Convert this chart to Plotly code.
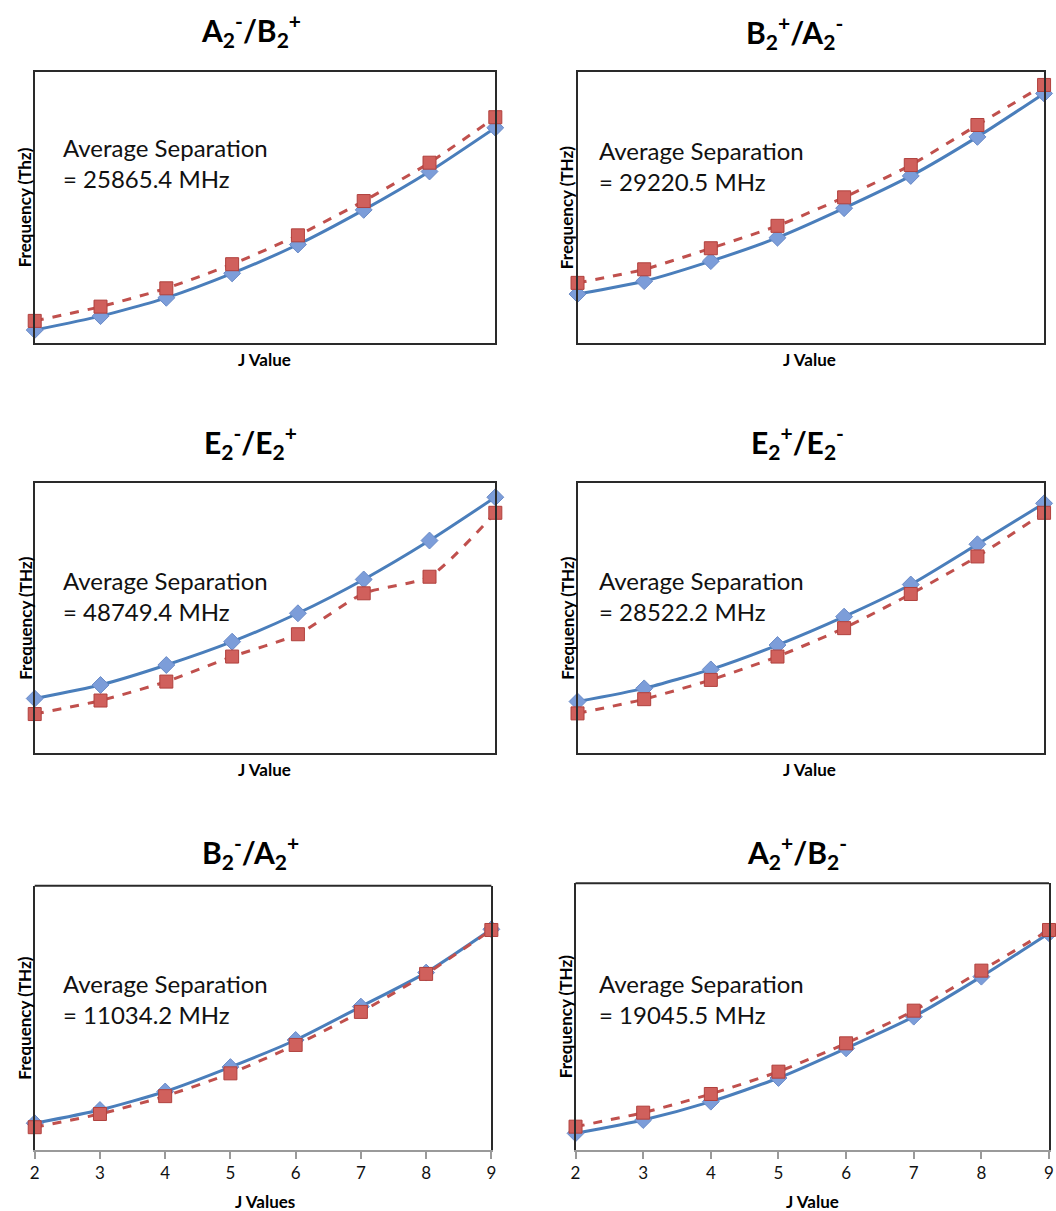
import plotly.graph_objects as go

# ---------------- data ----------------
j_values = [2, 3, 4, 5, 6, 7, 8, 9]
tick_labels = ["2", "3", "4", "5", "6", "7", "8", "9"]

panel_titles = [
    "A<sub>2</sub><sup>-</sup>/B<sub>2</sub><sup>+</sup>",
    "B<sub>2</sub><sup>+</sup>/A<sub>2</sub><sup>-</sup>",
    "E<sub>2</sub><sup>-</sup>/E<sub>2</sub><sup>+</sup>",
    "E<sub>2</sub><sup>+</sup>/E<sub>2</sub><sup>-</sup>",
    "B<sub>2</sub><sup>-</sup>/A<sub>2</sub><sup>+</sup>",
    "A<sub>2</sub><sup>+</sup>/B<sub>2</sub><sup>-</sup>",
]
separations = ["25865.4", "29220.5", "48749.4", "28522.2", "11034.2", "19045.5"]
y_titles = ["Frequency (Thz)", "Frequency (THz)", "Frequency (THz)",
            "Frequency (THz)", "Frequency (THz)", "Frequency (THz)"]
x_titles = ["J Value", "J Value", "J Value", "J Value", "J Values", "J Value"]

# relative frequencies (THz)
a2m_b2p_blue = [0.039, 0.080, 0.134, 0.206, 0.291, 0.393, 0.506, 0.635]
a2m_b2p_red = [0.066, 0.108, 0.162, 0.233, 0.318, 0.419, 0.532, 0.666]

b2p_a2m_blue = [0.145, 0.183, 0.242, 0.311, 0.398, 0.493, 0.608, 0.736]
b2p_a2m_red = [0.178, 0.218, 0.280, 0.346, 0.430, 0.525, 0.643, 0.761]

e2m_e2p_blue = [0.162, 0.202, 0.261, 0.330, 0.414, 0.514, 0.629, 0.757]
e2m_e2p_red = [0.116, 0.156, 0.212, 0.286, 0.352, 0.473, 0.522, 0.711]

e2p_e2m_blue = [0.153, 0.192, 0.248, 0.320, 0.404, 0.499, 0.618, 0.739]
e2p_e2m_red = [0.118, 0.160, 0.217, 0.286, 0.370, 0.471, 0.582, 0.711]

b2m_a2p_blue = [0.081, 0.121, 0.177, 0.251, 0.333, 0.434, 0.537, 0.668]
b2m_a2p_red = [0.069, 0.109, 0.163, 0.232, 0.318, 0.418, 0.533, 0.666]

a2p_b2m_blue = [0.050, 0.090, 0.145, 0.216, 0.305, 0.400, 0.520, 0.650]
a2p_b2m_red = [0.070, 0.112, 0.168, 0.235, 0.320, 0.418, 0.538, 0.660]

blue_series = [a2m_b2p_blue, b2p_a2m_blue, e2m_e2p_blue, e2p_e2m_blue, b2m_a2p_blue, a2p_b2m_blue]
red_series = [a2m_b2p_red, b2p_a2m_red, e2m_e2p_red, e2p_e2m_red, b2m_a2p_red, a2p_b2m_red]

# ---------------- layout geometry (pixels) ----------------
W, H = 1056, 1211
# (left, right, top, bottom) of each plot frame in pixels
boxes = [
    (30, 495, 71.7, 343.3),
    (578, 1049, 71.7, 343.3),
    (30, 495, 482.7, 753.3),
    (578, 1049, 482.7, 753.3),
    (30, 491, 885.7, 1150),
    (576, 1054, 883.3, 1150),
]
title_pos = [(248, 30), (797, 32), (248, 442), (800, 442), (248, 852), (800, 852)]
text_pos = [(57, 147), (598, 150), (57, 580), (598, 580), (57, 983), (598, 983)]
ytitle_x = [20, 567, 20, 567, 20, 566]
xtitle_pos = [(262, 359), (812, 359), (262, 769), (812, 769), (262, 1201), (815, 1201)]

BLUE_LINE = "#4a7ebb"
BLUE_MARK = "#7c9dd9"
RED_LINE = "#c0504d"
RED_MARK = "#d0605c"
FONT = "Lato"

fig = go.Figure()
annotations = []
shapes = []
layout = {}

for i in range(6):
    k = "" if i == 0 else str(i + 1)
    xa, ya = "x" + k, "y" + k
    l, r, t, b = boxes[i]
    bottom_row = i >= 4

    fig.add_trace(go.Scatter(
        x=j_values, y=blue_series[i], xaxis=xa, yaxis=ya, mode="lines+markers",
        line=dict(color=BLUE_LINE, width=3, shape="spline", smoothing=0.6),
        marker=dict(symbol="diamond", size=13, color=BLUE_MARK,
                    line=dict(color="#6a8bc8", width=1)),
        cliponaxis=False, showlegend=False))
    fig.add_trace(go.Scatter(
        x=j_values, y=red_series[i], xaxis=xa, yaxis=ya, mode="lines+markers",
        line=dict(color=RED_LINE, width=3, dash="dash", shape="spline", smoothing=0.6),
        marker=dict(symbol="square", size=13, color=RED_MARK,
                    line=dict(color="#b0403d", width=1)),
        cliponaxis=False, showlegend=False))

    xaxis = dict(
        domain=[l / W, r / W], anchor=ya, range=[2, 9],
        showgrid=False, zeroline=False,
        showline=True, linewidth=2,
        linecolor="#9a9a9a" if bottom_row else "#2a2a2a",
        mirror=not bottom_row,
        fixedrange=True,
    )
    if bottom_row:
        xaxis.update(ticks="outside", ticklen=7, tickwidth=1.5, tickcolor="#9a9a9a",
                     tickvals=j_values, ticktext=tick_labels,
                     tickfont=dict(family=FONT, size=17, color="#111"))
        shapes.append(dict(type="line", xref=xa + " domain", yref=ya + " domain",
                           x0=0, x1=1, y0=1, y1=1,
                           line=dict(color="#2a2a2a", width=2)))
    else:
        xaxis.update(showticklabels=False, ticks="")
    yaxis = dict(
        domain=[1 - b / H, 1 - t / H], anchor=xa, range=[0, 0.8],
        showgrid=False, zeroline=False, showticklabels=False, ticks="",
        showline=True, linewidth=2, linecolor="#2a2a2a", mirror=True,
        fixedrange=True,
    )
    layout["xaxis" + k] = xaxis
    layout["yaxis" + k] = yaxis

    tx, ty = title_pos[i]
    annotations.append(dict(text="<b>" + panel_titles[i] + "</b>", x=tx / W, y=1 - ty / H,
                            xref="paper", yref="paper", xanchor="center", yanchor="middle",
                            showarrow=False, font=dict(family=FONT, size=30, color="#000")))
    px_, py_ = text_pos[i]
    annotations.append(dict(text="Average Separation<br>= " + separations[i] + " MHz",
                            x=px_ / W, y=1 - (py_ - 16) / H,
                            xref="paper", yref="paper", xanchor="left", yanchor="top",
                            align="left", showarrow=False,
                            font=dict(family=FONT, size=24, color="#111")))
    annotations.append(dict(text="<b>" + y_titles[i] + "</b>", x=ytitle_x[i] / W,
                            y=1 - ((t + b) / 2) / H, textangle=-90,
                            xref="paper", yref="paper", xanchor="center", yanchor="middle",
                            showarrow=False, font=dict(family=FONT, size=17, color="#000")))
    xx, xy = xtitle_pos[i]
    annotations.append(dict(text="<b>" + x_titles[i] + "</b>", x=xx / W, y=1 - xy / H,
                            xref="paper", yref="paper", xanchor="center", yanchor="middle",
                            showarrow=False, font=dict(family=FONT, size=17, color="#000")))

fig.update_layout(
    width=W, height=H,
    margin=dict(l=0, r=0, t=0, b=0),
    paper_bgcolor="white", plot_bgcolor="white",
    annotations=annotations, shapes=shapes,
    **layout,
)

fig.write_html("out.html", config={"displayModeBar": False},
               post_script="document.body.style.margin='0';document.body.style.overflow='hidden';")
